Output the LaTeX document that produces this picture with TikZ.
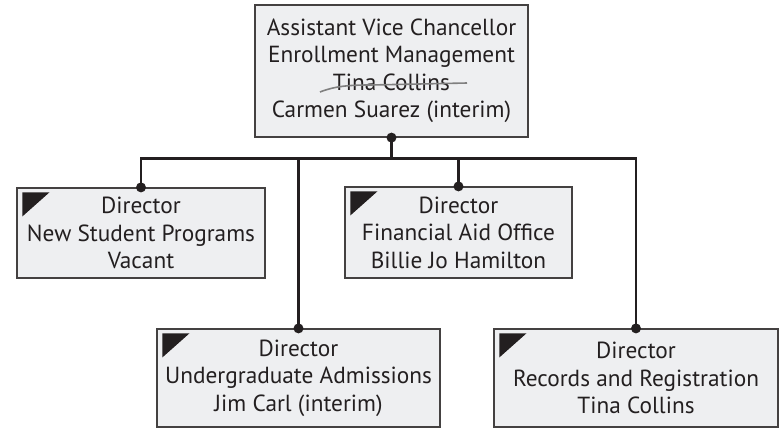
\documentclass[tikz,border=0pt]{standalone}
\usepackage{fontspec}
\setmainfont{PT Sans}

\definecolor{boxfill}{HTML}{EEEFF1}
\definecolor{ink}{HTML}{231F20}

\begin{document}
\begin{tikzpicture}[x=1pt,y=-1pt,
  post/.style={draw=ink!85, line width=1.2pt, fill=boxfill, align=center, text=ink,
    inner sep=0pt, font=\fontsize{23.3}{27.5}\selectfont},
  wire/.style={draw=ink, line width=2.4pt},
  flag/.style={fill=ink}]

\useasboundingbox (0,0) rectangle (784,432);

% TOP BOX
  \node[post, minimum width=273pt, minimum height=132pt] (avc) at (391.5,71)
    {Assistant Vice Chancellor\\Enrollment Management\\Tina Collins\\Carmen Suarez (interim)};
  \draw[gray, line width=1.6pt] (320,92) .. controls (335,86) and (350,85) .. (370,85) -- (467,83);

% DIRECTORS, upper row
  \node[post, minimum width=248pt, minimum height=90pt] (nsp) at (141,233)
    {Director\\New Student Programs\\Vacant};
  \node[post, minimum width=227pt, minimum height=91pt] (fao) at (458.5,232.5)
    {Director\\Financial Aid Office\\Billie Jo Hamilton};

% DIRECTORS, lower row
  \node[post, minimum width=283pt, minimum height=98pt] (uga) at (298.5,378)
    {Director\\Undergraduate Admissions\\Jim Carl (interim)};
  \node[post, minimum width=284pt, minimum height=98pt] (rar) at (636,378)
    {Director\\Records and Registration\\Tina Collins};

% corner flags
  \foreach \b in {nsp, fao, uga, rar}
    \fill[flag] ([shift={(6,5)}]\b.north west) -- ++(27,0) -- ++(-27,24) -- cycle;

% CONNECTORS
  \foreach \b in {nsp, fao, uga, rar}
    \draw[wire] (avc.south) -- ++(0,21) -| (\b.north);

% joints
  \foreach \b in {nsp, fao, uga, rar}
    \fill[ink] (\b.north) circle (5pt);
  \fill[ink] (avc.south) circle (5pt);

\end{tikzpicture}
\end{document}
